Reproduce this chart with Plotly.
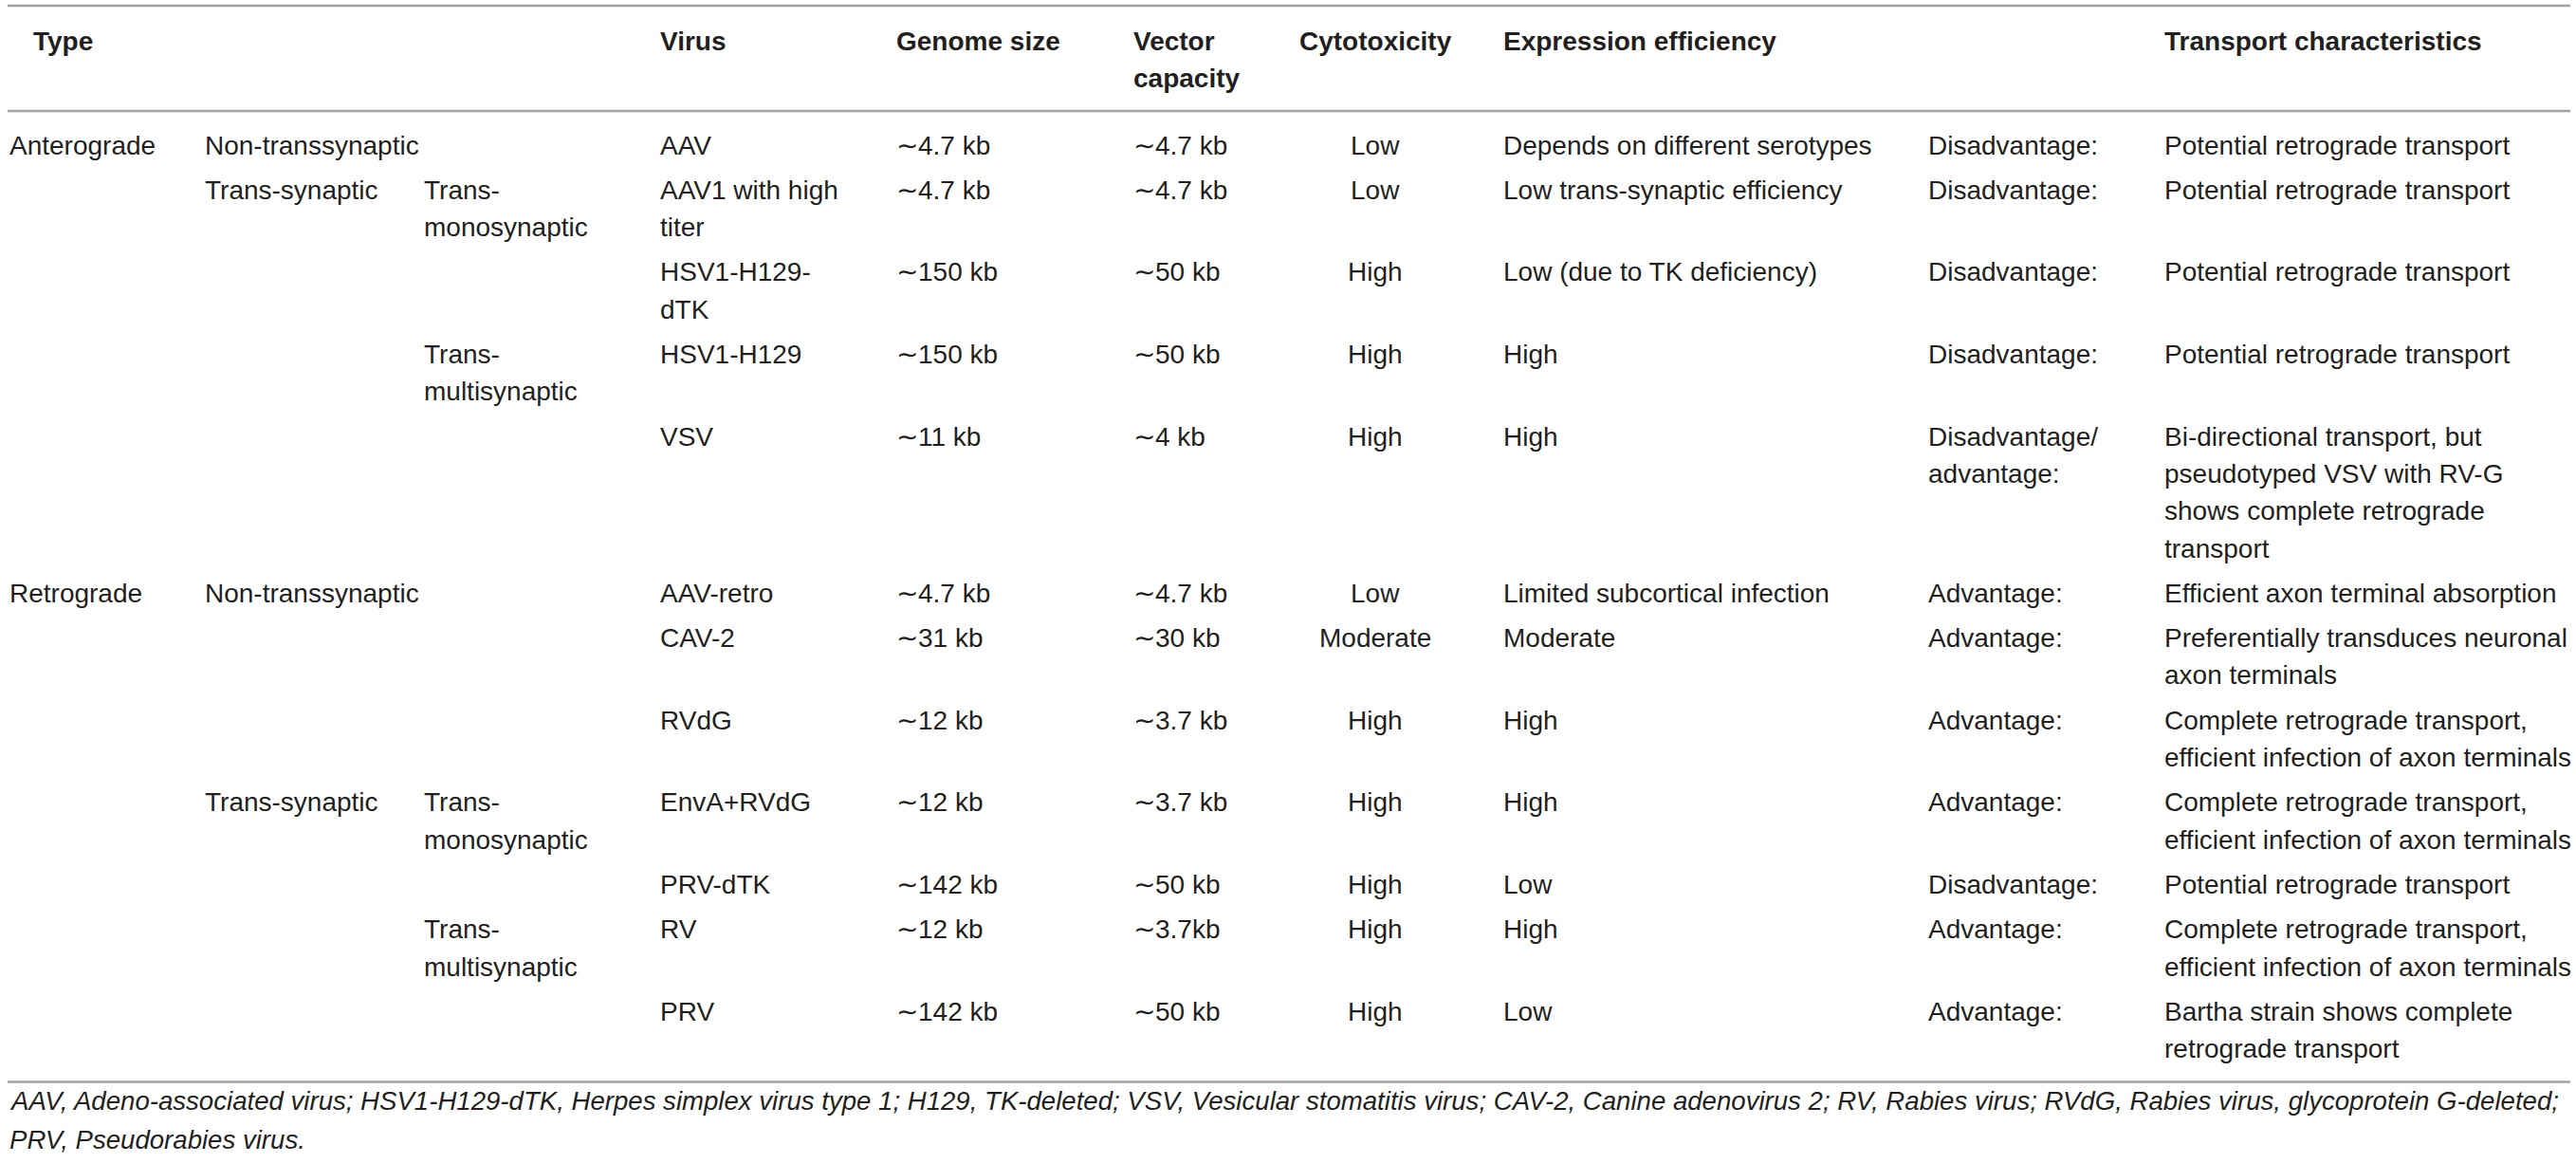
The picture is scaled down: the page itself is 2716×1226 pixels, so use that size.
import plotly.graph_objects as go

# table content, one entry per virus row ("\n" = line break as printed)
types = ["Anterograde", "", "", "", "", "Retrograde", "", "", "", "", "", ""]
routes = ["Non-transsynaptic", "Trans-synaptic", "", "", "",
          "Non-transsynaptic", "", "", "Trans-synaptic", "", "", ""]
spreads = ["", "Trans-\nmonosynaptic", "", "Trans-\nmultisynaptic", "",
           "", "", "", "Trans-\nmonosynaptic", "", "Trans-\nmultisynaptic", ""]
viruses = ["AAV", "AAV1 with high\ntiter", "HSV1-H129-\ndTK", "HSV1-H129", "VSV",
           "AAV-retro", "CAV-2", "RVdG", "EnvA+RVdG", "PRV-dTK", "RV", "PRV"]
genome_size = ["∼4.7 kb", "∼4.7 kb", "∼150 kb", "∼150 kb", "∼11 kb", "∼4.7 kb",
               "∼31 kb", "∼12 kb", "∼12 kb", "∼142 kb", "∼12 kb", "∼142 kb"]
vector_capacity = ["∼4.7 kb", "∼4.7 kb", "∼50 kb", "∼50 kb", "∼4 kb", "∼4.7 kb",
                   "∼30 kb", "∼3.7 kb", "∼3.7 kb", "∼50 kb", "∼3.7kb", "∼50 kb"]
cytotoxicity = ["Low", "Low", "High", "High", "High", "Low",
                "Moderate", "High", "High", "High", "High", "High"]
expression = ["Depends on different serotypes", "Low trans-synaptic efficiency",
              "Low (due to TK deficiency)", "High", "High",
              "Limited subcortical infection", "Moderate", "High", "High",
              "Low", "High", "Low"]
verdict = ["Disadvantage:", "Disadvantage:", "Disadvantage:", "Disadvantage:",
           "Disadvantage/\nadvantage:", "Advantage:", "Advantage:", "Advantage:",
           "Advantage:", "Disadvantage:", "Advantage:", "Advantage:"]
transport = ["Potential retrograde transport", "Potential retrograde transport",
             "Potential retrograde transport", "Potential retrograde transport",
             "Bi-directional transport, but\npseudotyped VSV with RV-G\nshows complete retrograde\ntransport",
             "Efficient axon terminal absorption",
             "Preferentially transduces neuronal\naxon terminals",
             "Complete retrograde transport,\nefficient infection of axon terminals",
             "Complete retrograde transport,\nefficient infection of axon terminals",
             "Potential retrograde transport",
             "Complete retrograde transport,\nefficient infection of axon terminals",
             "Bartha strain shows complete\nretrograde transport"]

headers = ["Type", "", "", "Virus", "Genome size", "Vector\ncapacity", "Cytotoxicity",
           "Expression efficiency", "", "Transport characteristics"]

footnote = ["AAV, Adeno-associated virus; HSV1-H129-dTK, Herpes simplex virus type 1; "
            "H129, TK-deleted; VSV, Vesicular stomatitis virus; CAV-2, Canine adenovirus 2; "
            "RV, Rabies virus; RVdG, Rabies virus, glycoprotein G-deleted;",
            "PRV, Pseudorabies virus."]

columns = [types, routes, spreads, viruses, genome_size, vector_capacity,
           cytotoxicity, expression, verdict, transport]

# page geometry (data units = screen pixels)
W, H = 2716, 1226
col_x = [8, 214, 445, 694, 943, 1193, 1450, 1583, 2031, 2280]
col_align = ["left"] * 6 + ["center"] + ["left"] * 3
header_x = [33] + col_x[1:]
line_h = 39.3
row_gap = 8
txt_color = "#231f20"
rule_color = "#a3a3a3"
FAMILY = "Liberation Sans, Arial, sans-serif"
font_body = dict(family=FAMILY, size=28, color=txt_color)
font_head = dict(family=FAMILY, size=28, color=txt_color, weight="bold")

fig = go.Figure()
annotations = []


def put(x, y, text, font, align="left"):
    annotations.append(dict(x=x, y=y, xref="x", yref="y", text=text, showarrow=False,
                            xanchor=align, yanchor="middle", font=font))


# header
head_y = 43
for x, a, h in zip(header_x, col_align, headers):
    for k, part in enumerate(h.split("\n")):
        if part:
            put(x, head_y + k * line_h, part, font_head, a)

# body rows
y = 153
for i in range(len(viruses)):
    n_lines = max(len(col[i].split("\n")) for col in columns)
    for x, a, col in zip(col_x, col_align, columns):
        for k, part in enumerate(col[i].split("\n")):
            if part:
                put(x, y + k * line_h, part, font_body, a)
    last_line = y + (n_lines - 1) * line_h
    y += n_lines * line_h + row_gap

bottom_rule = last_line + 35

for k, part in enumerate(footnote):
    put(8, bottom_rule + 20 + k * 41, part,
        dict(family=FAMILY, size=27.6, color=txt_color, style="italic"))

# horizontal rules
for ry in [6, 117, bottom_rule]:
    fig.add_shape(type="line", xref="x", yref="y", x0=8, x1=2710, y0=ry, y1=ry,
                  line=dict(color=rule_color, width=2.5))

fig.update_layout(
    width=W, height=H,
    margin=dict(l=0, r=0, t=0, b=0),
    paper_bgcolor="white", plot_bgcolor="white",
    annotations=annotations,
    showlegend=False,
    hovermode=False,
    xaxis=dict(range=[0, W], visible=False, fixedrange=True),
    yaxis=dict(range=[H, 0], visible=False, fixedrange=True),
)

# the page body has a default 8px margin; drop it so the figure fills the window
fig.write_html("out.html",
               config={"displayModeBar": False},
               post_script="document.body.style.margin='0';"
                           "document.body.style.overflow='hidden';")
